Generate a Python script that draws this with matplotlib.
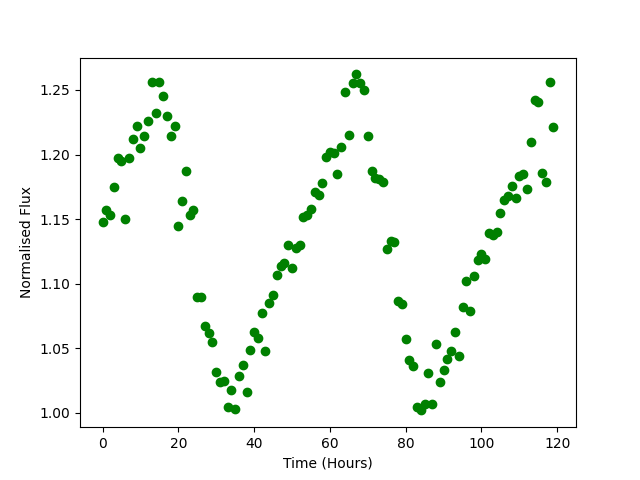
import numpy as np
import matplotlib
matplotlib.use("Agg")
import matplotlib.pyplot as plt

# hourly samples
hours = np.arange(120)
flux = [
    1.148, 1.157, 1.153, 1.175, 1.197, 1.195, 1.150, 1.197, 1.212, 1.222,
    1.205, 1.214, 1.226, 1.256, 1.232, 1.256, 1.245, 1.230, 1.214, 1.222,
    1.145, 1.164, 1.187, 1.153, 1.157, 1.090, 1.090, 1.067, 1.062, 1.055,
    1.032, 1.024, 1.025, 1.005, 1.018, 1.003, 1.029, 1.037, 1.016, 1.049,
    1.063, 1.058, 1.077, 1.048, 1.085, 1.091, 1.107, 1.114, 1.116, 1.130,
    1.112, 1.128, 1.130, 1.152, 1.153, 1.158, 1.171, 1.169, 1.178, 1.198,
    1.202, 1.201, 1.185, 1.206, 1.248, 1.215, 1.255, 1.262, 1.255, 1.250,
    1.214, 1.187, 1.182, 1.181, 1.179, 1.127, 1.133, 1.132, 1.087, 1.084,
    1.057, 1.041, 1.036, 1.005, 1.002, 1.007, 1.031, 1.007, 1.053, 1.024,
    1.033, 1.042, 1.048, 1.063, 1.044, 1.082, 1.102, 1.079, 1.106, 1.118,
    1.123, 1.119, 1.139, 1.138, 1.140, 1.155, 1.165, 1.168, 1.176, 1.166,
    1.183, 1.185, 1.173, 1.210, 1.242, 1.241, 1.186, 1.179, 1.256, 1.221,
]

fig, ax = plt.subplots(figsize=(6.4, 4.8), dpi=100)
ax.plot(hours, flux, "go")
ax.set_xlabel("Time (Hours)")
ax.set_ylabel("Normalised Flux")

plt.savefig("out.png")
